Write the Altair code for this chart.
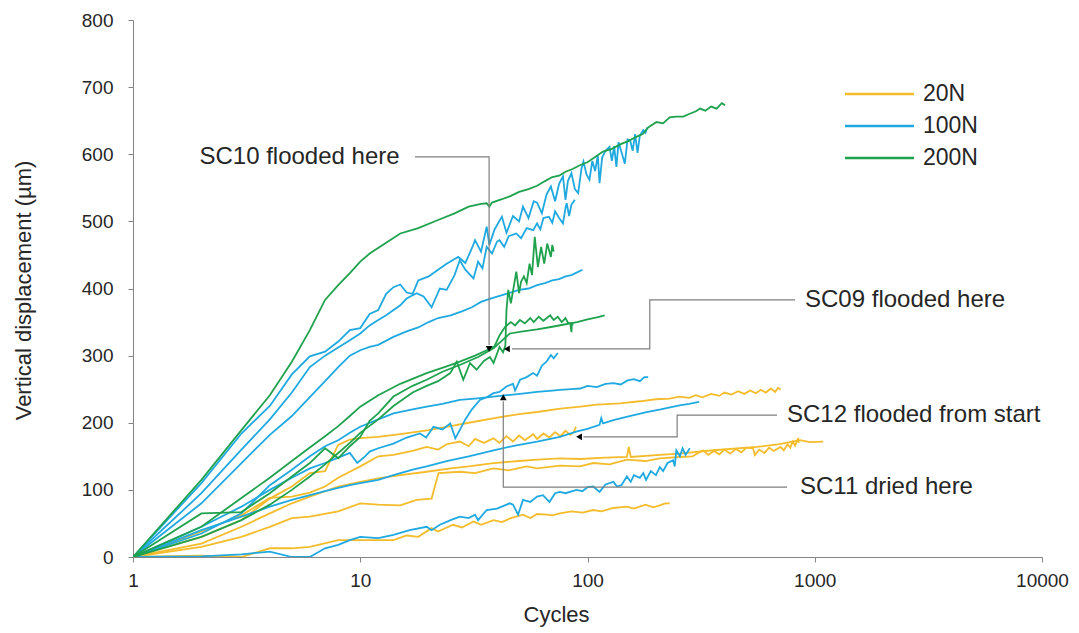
import altair as alt
import pandas as pd

# ---- measured curves: (cycles, vertical displacement in µm) ----
g1 = [(1,0),(2,115),(3,189),(4,241),(5,291),(6,338),(7,383),(8,405),(9,423),(10,440),(11,452),(13,468),(15,482),(18,490),(22,502),(26,512),(30,522),(34,526),(36,527),(37,522),(38,528),(42,533),(46,538),(50,544),(55,548),(60,553),(65,560),(70,566),(75,568),(80,574),(86,578),(93,584),(100,588),(108,596),(117,604),(128,608),(140,615),(152,620),(164,626),(175,630),(185,640),(201,648),(215,646),(230,655),(245,656),(264,656),(280,660),(300,664),(313,668),(330,665),(350,671),(370,668),(390,676),(403,673)]
g2 = [(1,0),(2,65),(3,67),(4,95),(5,120),(6,140),(7,162),(8,147),(9,165),(10,179),(11,203),(12,214),(14,239),(17,255),(19.6,264),(23,276),(27.4,286),(33,298),(38.6,311),(45.5,333),(52,336),(60,339),(70,343),(78,346),(90,350),(100,354),(110,357),(119,360)]
g3 = [(1,0),(2,45),(3,88),(4,118),(5,143),(6,163),(7,180),(8,195),(9,210),(10,224),(12,241),(15,258),(19.6,274),(24,284),(27.4,291),(32,300),(36,308),(39,314),(41,330),(43.4,343),(46,350),(48,345),(50.4,353),(53,348),(56,356),(58,350),(61,358),(64,352),(68.5,360),(71,353),(74,358),(77,350),(80,356),(82,349),(84,348),(85,335),(85.5,350),(86,345)]
g4 = [(1,0),(2,30),(3,55),(4,78),(5,100),(6,120),(7,138),(8,155),(9,170),(10,185),(12,205),(14,225),(17,245),(19.6,255),(22,262),(24.9,274),(26.6,291),(28.4,264),(30.4,289),(32.5,279),(35,292),(37.2,298),(38.6,289),(41,313),(42.5,305),(43.5,315),(44,368),(44.8,398),(46,378),(47.5,405),(48.6,425),(50,393),(51,410),(52.5,418),(54,408),(55.6,437),(57,420),(58.6,477),(60.5,432),(62.5,462),(64.5,437),(66.5,467),(69,447),(70,465),(71,455)]

b1 = [(1,0),(2,110),(3,184),(4,225),(5,272),(6,299),(7,306),(8,321),(9,338),(10,341),(11,362),(12,368),(13,392),(14,402),(15,406),(16,394),(17,392),(18,412),(20,418),(22,428),(24,437),(26,444),(27,447),(29,438),(31,460),(32,472),(34,455),(36,492),(37,465),(39,488),(42,507),(44,483),(47,508),(50,500),(52,522),(55,505),(58,530),(60,528),(63,512),(66,540),(69,552),(72,530),(75,556),(78,567),(80,532),(82,560),(85,572),(88,548),(91,542),(94,578),(96,589),(99,570),(102,562),(105,590),(108,575),(111,598),(113,557),(116,595),(120,605),(125,611),(128,590),(131,612),(134,581),(137,618),(142,600),(146,586),(150,622),(154,621),(158,605),(162,630),(166,602),(170,628),(176,636),(180,632),(183,640)]
b2 = [(1,0),(2,95),(3,160),(4,205),(5,245),(6,283),(7,300),(8,312),(9,323),(10,333),(11,345),(12,353),(13,360),(15,375),(16,385),(17.7,393),(19,388),(20.6,372),(22.4,400),(24,398),(26,420),(27.4,442),(29,428),(31.5,415),(33,440),(34.5,430),(36,462),(38,452),(40,470),(41,472),(43,462),(45,478),(48.6,482),(51,475),(54,490),(57.7,487),(60,497),(62,488),(64,505),(67.6,507),(70,498),(72,515),(75,505),(78,497),(80,520),(81,527),(83,508),(85,525),(88,532)]
b3 = [(1,0),(2,80),(3,140),(4,182),(5,210),(6,238),(7,262),(8,283),(9,300),(10,308),(11,313),(12,316),(14,328),(16,336),(18,342),(20,350),(22,356),(25,360),(28,366),(31,372),(34,380),(36,383),(40,388),(45,393),(50,398),(55,400),(60,405),(65,408),(70,412),(75,414),(80,418),(85,420),(90,424),(95,428)]
b4 = [(1,0),(2,45),(3,75),(4,100),(5,118),(6,132),(7,140),(8,148),(9,155),(9.7,140),(10.5,150),(11,157),(12,162),(14,169),(16,178),(18.3,184),(19.5,178),(21,194),(23,190),(24.9,199),(26.2,177),(27.4,189),(29,205),(31,220),(33.6,234),(36,238),(38.6,244),(41,246),(44,254),(47,258),(48,248),(50.5,264),(54,268),(57.6,274),(60,270),(63,285),(66,291),(69,301),(71,296),(74,304)]
b5 = [(1,0),(2,35),(3,65),(4,107),(5,130),(6,150),(7,165),(8,174),(9,185),(10,194),(12,205),(14,214),(17,220),(19.6,224),(23,228),(27.4,234),(32,236),(38.6,239),(44,241),(50.5,243),(60,246),(70,248),(75.6,249),(85,250),(93,251),(100,255),(110,253),(120,258),(130,259),(140,257),(150,263),(160,265),(170,262),(178,268),(185,268)]
b6 = [(1,0),(2,40),(3,60),(4,75),(5,85),(6,92),(7,98),(8,103),(9,107),(10,110),(12,115),(14,122),(17,130),(19.6,135),(24,143),(30,150),(38.6,159),(48,166),(60,172),(75.6,179),(90,187),(100,191),(113,197),(115,207),(117,199),(130,204),(150,209),(182,216),(210,220),(254,226),(280,228),(310,231)]
b7 = [(1,0),(2,1),(3,4),(4,8),(5,0),(6,0),(7,13),(8,18),(9,25),(10,30),(12,28),(14,33),(16.5,40),(19.6,45),(20.6,40),(22.4,48),(25,55),(27.4,60),(30,58),(32,63),(33,55),(36,70),(40,72),(45.5,80),(47,78),(49.5,63),(52,85),(56,82),(60,90),(63.7,92),(68,82),(72,95),(75.6,97),(80,95),(89.5,100),(95,98),(100,104),(106,105),(113,97),(120,108),(130,112),(135,105),(141,107),(149,120),(155,112),(160,122),(170,118),(176,125),(181,115),(190,128),(200,122),(208,134),(215,128),(225,140),(238,144),(242,135),(246,159),(255,150),(262,162),(270,152),(282,162)]

y1 = [(1,0),(2,30),(3,55),(4,87),(5,105),(6,125),(7,128),(8,167),(9,175),(10,177),(12,179),(15,183),(20,189),(25,195),(30,200),(39,207),(50,213),(60,216),(76,221),(93,224),(110,227),(139,229),(170,232),(200,235),(230,236),(254,239),(280,237),(300,241),(320,238),(350,243),(380,240),(400,245),(430,242),(460,247),(490,243),(520,248),(550,244),(580,249),(610,245),(640,251),(670,246),(690,252),(707,249)]
y2 = [(1,0),(2,38),(3,62),(4,88),(5,90),(6,96),(7,105),(8,118),(9,127),(10,135),(12,150),(14,152),(17,158),(19.6,164),(22,160),(24,168),(27.4,172),(30,165),(32,176),(35,170),(38.6,177),(41,170),(44,180),(47,172),(50,181),(53,174),(57.7,183),(60,176),(64,184),(68,178),(72,186),(76,180),(80,188),(84,182),(87,186),(89,194)]
y3 = [(1,0),(2,20),(3,45),(4,65),(5,80),(6,90),(8,105),(10,112),(12,117),(15,122),(19.6,127),(25,132),(30,135),(38.6,140),(50,143),(60,145),(75.6,147),(93,146),(120,148),(149,149),(152,164),(155,149),(208,152),(254,154),(357,159),(556,164),(700,168),(862,174),(950,171),(1090,172)]
y5 = [(1,0),(2,15),(3,30),(4,45),(5,58),(6,60),(8,68),(10,80),(12,78),(15,77),(17.7,85),(20.6,87),(22.1,125),(27.4,127),(32,125),(38.6,132),(45,129),(54,135),(60,132),(75.6,136),(92.6,135),(106,140),(125,138),(149,145),(180,143),(208,147),(254,149),(290,150),(322,159),(340,152),(360,158),(380,153),(400,160),(425,154),(450,161),(475,156),(500,163),(535,162),(545,152),(570,160),(600,155),(630,163),(660,158),(707,164),(730,159),(760,168),(780,163),(800,172),(820,166),(845,177),(850,170)]
y6 = [(1,0),(2,2),(3,0),(4,13),(5,13),(6,15),(8,25),(10,25),(12,25),(14,25),(16,32),(18,30),(20.6,43),(22,38),(25.6,48),(28,44),(31.5,53),(34,48),(38.6,55),(42,52),(46,58),(52,63),(56,58),(60,64),(66,63),(70,62),(75.6,65),(85,68),(95,66),(106,70),(115,68),(130,73),(149,75),(160,72),(180,78),(195,74),(208,77),(220,80),(230,80)]

loads = ["20N", "100N", "200N"]
colors = ["#F4BC2A", "#1FA9E1", "#1FA24D"]
curves = [("y1", "20N", y1), ("y2", "20N", y2), ("y3", "20N", y3), ("y5", "20N", y5), ("y6", "20N", y6),
          ("b1", "100N", b1), ("b2", "100N", b2), ("b3", "100N", b3), ("b4", "100N", b4),
          ("b5", "100N", b5), ("b6", "100N", b6), ("b7", "100N", b7),
          ("g1", "200N", g1), ("g2", "200N", g2), ("g3", "200N", g3), ("g4", "200N", g4)]

rows = []
for name, load, pts in curves:
    for i, (c, v) in enumerate(pts):
        rows.append({"series": name, "load": load, "cycles": c, "um": v, "idx": i})
data = pd.DataFrame(rows)

# ---- annotation callouts (data coordinates) ----
notes = pd.DataFrame({
    "text": ["SC10 flooded here", "SC09 flooded here", "SC12 flooded from start", "SC11 dried here"],
    "cycles": [14.9, 906, 755, 861],
    "um": [596, 383, 211.5, 104],
    "align": ["right", "left", "left", "left"],
})
leaders = [
    ("SC10", [(17.4, 596), (36.9, 596), (36.9, 316)]),
    ("SC09", [(819, 383), (188, 383), (188, 310), (46.5, 310)]),
    ("SC12", [(682, 211.5), (248, 211.5), (248, 179), (96, 179)]),
    ("SC11", [(755, 104), (42.6, 104), (42.6, 232)]),
]
lead_rows = []
for name, pts in leaders:
    for i, (c, v) in enumerate(pts):
        lead_rows.append({"note": name, "cycles": c, "um": v, "idx": i})
lead_df = pd.DataFrame(lead_rows)
heads = pd.DataFrame({
    "cycles": [36.9, 44.2, 91.8, 42.6],
    "um": [310, 310, 179, 238],
    "dir": ["down", "left", "left", "up"],
})

FONT = "Liberation Sans"
TXT = "#262626"

xscale = alt.Scale(type="log", domain=[1, 10000])
yscale = alt.Scale(domain=[0, 800])
xax = alt.Axis(values=[1, 10, 100, 1000, 10000], format="d", title="Cycles", labelFlush=False,
               labelPadding=9, titleX=423, titleY=57, titleBaseline="middle", titleAlign="center")
yax = alt.Axis(values=list(range(0, 801, 100)), title="Vertical displacement (µm)", labelPadding=15,
               titleX=-110, titleY=270, titleAngle=270, titleAlign="center", titleBaseline="middle")

lines = alt.Chart(data).mark_line(strokeWidth=1.8, clip=True).encode(
    x=alt.X("cycles:Q", scale=xscale, axis=xax),
    y=alt.Y("um:Q", scale=yscale, axis=yax),
    color=alt.Color("load:N", scale=alt.Scale(domain=loads, range=colors), legend=None),
    detail="series:N",
    order="idx:Q",
)

lead = alt.Chart(lead_df).mark_line(color="#7F7F7F", strokeWidth=1.2).encode(
    x=alt.X("cycles:Q", scale=xscale),
    y=alt.Y("um:Q", scale=yscale),
    detail="note:N",
    order="idx:Q",
)

arrow = alt.Chart(heads).mark_point(filled=True, color="black", opacity=1, size=45).encode(
    x=alt.X("cycles:Q", scale=xscale),
    y=alt.Y("um:Q", scale=yscale),
    shape=alt.Shape("dir:N", scale=alt.Scale(domain=["down", "left", "up"],
                                             range=["triangle-down", "triangle-left", "triangle-up"]),
                    legend=None),
)

labels_left = alt.Chart(notes[notes["align"] == "left"]).mark_text(
    align="left", baseline="middle", font=FONT, fontSize=24, color=TXT).encode(
    x=alt.X("cycles:Q", scale=xscale), y=alt.Y("um:Q", scale=yscale), text="text:N")
labels_right = alt.Chart(notes[notes["align"] == "right"]).mark_text(
    align="right", baseline="middle", font=FONT, fontSize=24, color=TXT).encode(
    x=alt.X("cycles:Q", scale=xscale), y=alt.Y("um:Q", scale=yscale), text="text:N")

# legend drawn as short strokes with labels
key_layers = []
for i, (lab, col) in enumerate(zip(loads, colors)):
    ypix = 74 + i * 32
    key_layers.append(alt.Chart(pd.DataFrame({"k": [lab]})).mark_rule(color=col, strokeWidth=2.5).encode(
        x=alt.value(712), x2=alt.value(781), y=alt.value(ypix)))
    key_layers.append(alt.Chart(pd.DataFrame({"k": [lab]})).mark_text(
        align="left", baseline="middle", font=FONT, fontSize=23, color=TXT).encode(
        x=alt.value(790), y=alt.value(ypix), text="k:N"))

chart = alt.layer(lines, lead, arrow, labels_left, labels_right, *key_layers).properties(
    width=909, height=537,
    autosize=alt.AutoSizeParams(type="none"),
    padding={"left": 133, "top": 20, "right": 37, "bottom": 76},
).configure_view(stroke=None).configure_axis(
    grid=False, domainColor="#868686", tickColor="#868686", domainWidth=1, tickWidth=1,
    tickSize=5, labelFont=FONT, labelFontSize=19, labelColor=TXT,
    titleFont=FONT, titleFontSize=22, titleColor=TXT, titleFontWeight="normal",
)

chart.save("out.html", embed_options={"renderer": "svg", "actions": False})
